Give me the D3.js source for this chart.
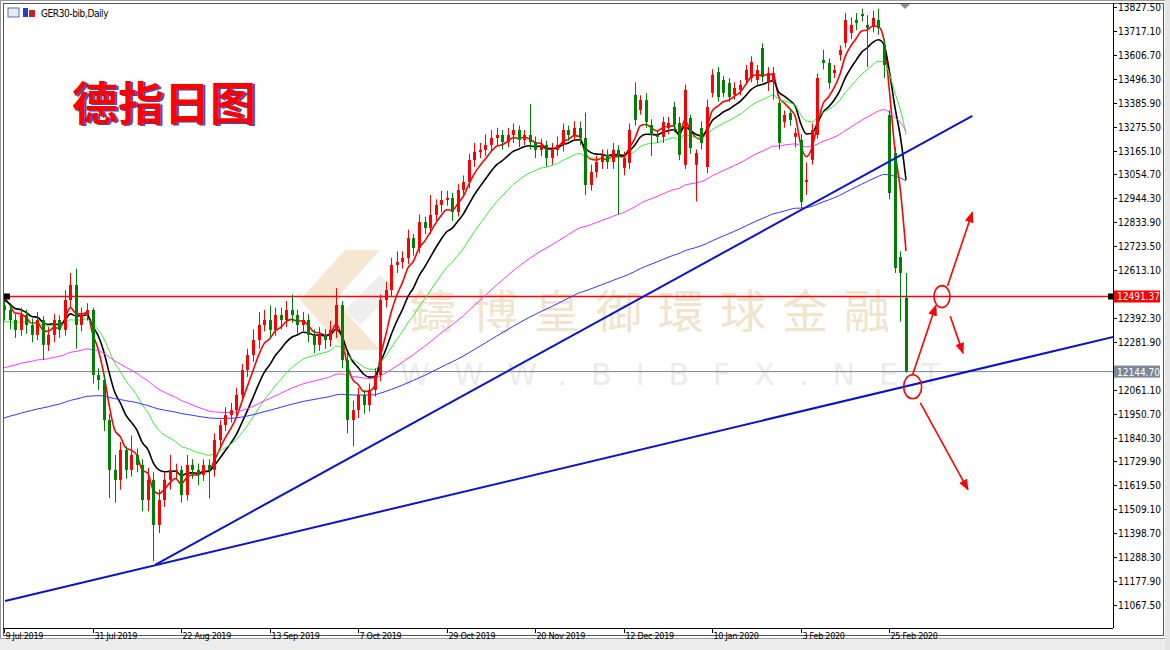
<!DOCTYPE html>
<html><head><meta charset="utf-8">
<script src="https://cdn.jsdelivr.net/npm/d3@7"></script>
<style>body{margin:0;background:#fff}svg{display:block}</style>
</head><body>
<svg id="c" width="1170" height="650"></svg>
<script>
const closes=[12429,12383,12337,12406,12360,12314,12383,12268,12314,12383,
12337,12475,12545,12360,12406,12429,12129,12106,11921,11691,
11645,11783,11691,11760,11714,11552,11645,11437,11552,11645,
11691,11691,11575,11714,11691,11668,11714,11691,11829,11898,
11944,11967,12037,12152,12221,12291,12360,12383,12337,12406,
12383,12429,12406,12360,12383,12314,12268,12314,12291,12337,
12452,12198,11921,11967,12037,11990,12060,12129,12475,12521,
12637,12651,12669,12761,12715,12835,12808,12868,12914,12937,
12946,12881,12983,13020,13121,13158,13168,13191,13223,13237,
13204,13237,13260,13214,13237,13204,13168,13191,13131,13168,
13191,13260,13237,13269,13223,13006,13066,13112,13145,13112,
13168,13140,
13131,13260,13306,13398,13297,13237,13228,13297,13292,13283,
13145,13445,13177,13154,13200,13366,13514,13412,13431,13412,
13454,13468,13537,13574,13537,13505,13523,13523,13200,13329,
13306,13246,12928,13029,13260,13500,13569,13477,13537,13629,
13768,13745,13754,13786,13731,13777,13731,13560,12969,12623,
12600,12145];
const opens=[12450,12429,12383,12337,12406,12360,12314,12383,12268,12314,
12383,12337,12475,12545,12360,12406,12429,12129,12106,11921,
11691,11645,11783,11691,11760,11714,11552,11645,11437,11552,
11645,11691,11691,11575,11714,11691,11668,11714,11691,11829,
11898,11944,11967,12037,12152,12221,12291,12360,12383,12337,
12406,12383,12429,12406,12360,12383,12314,12268,12314,12291,
12337,12452,12198,11921,11967,12037,11990,12060,12129,12475,
12521,12637,12651,12669,12761,12715,12835,12808,12868,12914,
12937,12946,12881,12983,13020,13121,13158,13168,13191,13223,
13237,13204,13237,13260,13214,13237,13204,13168,13191,13131,
13168,13191,13260,13237,13269,13223,13006,13066,13112,13145,
13112,13168,
13085,13108,13422,13352,13398,13283,13237,13228,13269,13366,
13292,13099,13315,13099,13269,13089,13431,13528,13491,13477,
13422,13445,13491,13500,13491,13638,13482,13482,13385,13297,
13338,13228,13214,13020,13122,13237,13583,13569,13523,13606,
13662,13708,13768,13795,13745,13735,13768,13652,13329,13154,
12674,12485];
const highs=[12480,12455,12410,12440,12430,12390,12420,12400,12350,12410,
12405,12520,12600,12620,12440,12460,12440,12160,12130,11950,
11760,11820,11800,11850,11790,11740,11700,11680,11600,11680,
11760,11720,11710,11760,11740,11720,11740,11740,11860,11920,
11980,12000,12070,12180,12250,12340,12420,12430,12450,12440,
12440,12470,12500,12430,12420,12410,12340,12350,12340,12380,
12530,12470,12230,12010,12070,12060,12090,12160,12500,12560,
12670,12700,12700,12800,12780,12870,12860,12960,12940,12980,
12980,12970,13010,13050,13150,13200,13200,13240,13260,13270,
13260,13270,13290,13280,13260,13380,13230,13220,13210,13200,
13230,13290,13280,13300,13300,13340,13100,13140,13170,13170,
13200,13190,
13160,13290,13480,13420,13430,13310,13260,13320,13320,13390,
13320,13470,13330,13170,13300,13400,13540,13550,13510,13500,
13480,13490,13560,13600,13560,13660,13550,13550,13400,13350,
13360,13270,13240,13110,13290,13520,13630,13590,13560,13650,
13800,13780,13800,13820,13790,13810,13820,13680,13350,13180,
12700,12600];
const lows=[12380,12340,12300,12310,12320,12280,12290,12200,12240,12280,
12300,12310,12440,12250,12330,12380,12090,12060,11870,11560,
11540,11600,11650,11660,11680,11500,11500,11270,11400,11520,
11600,11650,11540,11550,11650,11620,11640,11560,11660,11800,
11870,11910,11940,12010,12120,12190,12250,12330,12300,12310,
12340,12350,12370,12320,12330,12280,12230,12240,12250,12260,
12300,12160,11860,11800,11930,11950,11960,12030,12100,12440,
12490,12600,12620,12640,12680,12690,12780,12780,12840,12880,
12910,12840,12860,12950,12990,13090,13130,13140,13160,13190,
13170,13180,13200,13180,13190,13170,13130,13140,13090,13100,
13140,13160,13210,13210,13190,12960,12980,13040,13080,13080,
13080,12870,
13050,13080,13280,13330,13270,13140,13200,13200,13240,13250,
13120,13080,13150,12930,13170,13060,13410,13390,13410,13390,
13400,13420,13470,13480,13470,13480,13440,13400,13170,13270,
13280,13180,12900,12960,13100,13220,13540,13450,13500,13580,
13640,13680,13720,13760,13550,13710,13700,13500,12940,12600,
12375,12140];
const maPeriods=[5,10,20,60,120];
const maStart=[12489,12475,12374,12162,11931];
const maColors=["#ff0000","#000000","#33ee33","#ff33ff","#3333ff"];
const maWidths=[1.6,1.6,1,1,1];
const yTicks=[13827.50,13717.10,13606.70,13496.30,13385.90,13275.50,13165.10,13054.70,12944.30,12833.90,12723.50,12613.10,12502.70,12392.30,12281.90,12171.50,12061.10,11950.70,11840.30,11729.90,11619.50,11509.10,11398.70,11288.30,11177.90,11067.50];
const xTickIdx=[0,16,32,48,64,80,96,112,128,144,160];
const xTickLabels=["9 Jul 2019","31 Jul 2019","22 Aug 2019","13 Sep 2019","7 Oct 2019","29 Oct 2019","20 Nov 2019","12 Dec 2019","10 Jan 2020","3 Feb 2020","25 Feb 2020"];
const hLevel=12491.37, lastPrice=12144.70;
const trend1=[[27.3,11253],[175,13325]];
const trend2=[[0.2,11086],[200.5,12305]];
const circles=[[169.5,12491,8,11],[164.2,12075,9,12]];
const arrows=[[[164.2,12130],[168.4,12450]],[[170.5,12540],[175,12880]],[[171,12400],[173.3,12230]],[[165.6,12000],[174.2,11600]]];

const svg=d3.select("#c");
const L=3,R=1113,T=3,B=628;
const x=d3.scaleLinear().domain([0,163]).range([4,906]);
const y=d3.scaleLinear().domain([11067.5,13827.5]).range([605,7]);

svg.append("rect").attr("x",0.5).attr("y",0.5).attr("width",1169).attr("height",649).attr("fill","#fff").attr("stroke","#9a9a9a");
svg.append("rect").attr("x",0).attr("y",638).attr("width",1170).attr("height",12).attr("fill","#ececec");
svg.append("line").attr("x1",0).attr("x2",1170).attr("y1",638.5).attr("y2",638.5).attr("stroke","#a0a0a0");
svg.append("rect").attr("x",1165).attr("y",0).attr("width",5).attr("height",650).attr("fill","#e4e4e4");
svg.append("rect").attr("x",L+0.5).attr("y",T+0.5).attr("width",1160).attr("height",B-T+7).attr("fill","none").attr("stroke","#555");

const defs=svg.append("defs");
defs.append("clipPath").attr("id","clip").append("rect").attr("x",L+1).attr("y",T+1).attr("width",R-L-1).attr("height",B-T-1);
defs.append("marker").attr("id","ah").attr("viewBox","0 0 10 10").attr("refX",9).attr("refY",5).attr("markerWidth",7).attr("markerHeight",7).attr("orient","auto")
 .append("path").attr("d","M0,1 L10,5 L0,9 z").attr("fill","#ff0000");

const g=svg.append("g").attr("clip-path","url(#clip)");

const wm=g.append("g");
wm.append("path").attr("d","M300,300 L345,250 L380,250 L335,300 Z").attr("fill","#f5e7d2");
wm.append("path").attr("d","M335,300 L380,350 L345,350 L300,300 Z").attr("fill","#f5e7d2");
wm.append("path").attr("d","M345,310 L380,275 L395,290 L360,325 Z").attr("fill","#eeeeee");
wm.append("text").attr("x",410).attr("y",328).attr("font-family","Noto Sans CJK TC").attr("font-size",46).attr("letter-spacing",16).attr("fill","#f2e3cc").text("鑄博皇御環球金融");
wm.append("text").attr("x",400).attr("y",385).attr("font-family","DejaVu Sans").attr("font-size",30).attr("letter-spacing",24).attr("fill","#ececec").text("WWW.BIBFX.NET");

g.append("line").attr("x1",L).attr("x2",R).attr("y1",y(lastPrice)).attr("y2",y(lastPrice)).attr("stroke","#7a8590").attr("stroke-width",1);
g.append("line").attr("x1",L).attr("x2",R).attr("y1",y(hLevel)).attr("y2",y(hLevel)).attr("stroke","#ff0000").attr("stroke-width",1.3);

maPeriods.forEach((p,k)=>{
  const a=2/(p+1); let v=maStart[k]; const pts=[];
  closes.forEach((c,i)=>{ if(i>0) v=v+a*(c-v); pts.push([i,v]); });
  g.append("path").attr("d",d3.line().x(d=>x(d[0])).y(d=>y(d[1])).curve(d3.curveMonotoneX)(pts))
   .attr("fill","none").attr("stroke",maColors[k]).attr("stroke-width",maWidths[k]);
});

const bw=3;
closes.forEach((c,i)=>{
  const o=opens[i], up=c>=o, col=up?"#ff0000":"#008000", cx=Math.round(x(i))+0.5;
  g.append("line").attr("x1",cx).attr("x2",cx).attr("y1",y(highs[i])).attr("y2",y(lows[i])).attr("stroke",col);
  const top=y(Math.max(o,c)), bot=y(Math.min(o,c));
  g.append("rect").attr("x",cx-1.5).attr("y",top).attr("width",bw).attr("height",Math.max(1,bot-top)).attr("fill",col);
});

[trend1,trend2].forEach(t=>{
  g.append("line").attr("x1",x(t[0][0])).attr("y1",y(t[0][1])).attr("x2",x(t[1][0])).attr("y2",y(t[1][1])).attr("stroke","#0a14c8").attr("stroke-width",2);
});

circles.forEach(c=>g.append("ellipse").attr("cx",x(c[0])).attr("cy",y(c[1])).attr("rx",c[2]).attr("ry",c[3]).attr("fill","none").attr("stroke","#ff0000").attr("stroke-width",1.6));
arrows.forEach(a=>g.append("line").attr("x1",x(a[0][0])).attr("y1",y(a[0][1])).attr("x2",x(a[1][0])).attr("y2",y(a[1][1])).attr("stroke","#ff0000").attr("stroke-width",1.6).attr("marker-end","url(#ah)"));

g.append("rect").attr("x",L+1).attr("y",y(hLevel)-3).attr("width",6).attr("height",6).attr("fill","#000");
svg.append("rect").attr("x",R-5).attr("y",y(hLevel)-3).attr("width",5).attr("height",6).attr("fill","#000");

svg.append("line").attr("x1",R+0.5).attr("x2",R+0.5).attr("y1",T).attr("y2",B).attr("stroke","#000");
const yAx=svg.append("g");
yTicks.forEach(v=>{
  const yy=Math.round(y(v))+0.5;
  yAx.append("line").attr("x1",R).attr("x2",R+4).attr("y1",yy).attr("y2",yy).attr("stroke","#000");
  const hidden=Math.abs(y(v)-y(hLevel))<10 || Math.abs(y(v)-y(lastPrice))<10;
  if(!hidden) yAx.append("text").attr("x",R+5).attr("y",yy+3.5).attr("font-family","DejaVu Sans Condensed, DejaVu Sans").attr("font-size",10).attr("fill","#000").text(v.toFixed(2));
});
function box(v,fill){
  const yy=y(v);
  svg.append("rect").attr("x",R+1).attr("y",yy-6).attr("width",46).attr("height",12).attr("fill",fill);
  svg.append("text").attr("x",R+4).attr("y",yy+4).attr("font-family","DejaVu Sans Condensed, DejaVu Sans").attr("font-size",10).attr("fill","#fff").text(v.toFixed(2));
}
box(hLevel,"#ff0000"); box(lastPrice,"#78889a");

svg.append("line").attr("x1",L).attr("x2",R).attr("y1",B+0.5).attr("y2",B+0.5).attr("stroke","#000");
xTickIdx.forEach((idx,k)=>{
  const xx=Math.round(x(idx))+0.5;
  svg.append("line").attr("x1",xx).attr("x2",xx).attr("y1",B).attr("y2",B+5).attr("stroke","#000");
  svg.append("text").attr("x",xx+1).attr("y",B+11).attr("font-family","DejaVu Sans Condensed, DejaVu Sans").attr("font-size",9).attr("letter-spacing",-0.3).attr("fill","#000").text(xTickLabels[k]);
});

svg.append("rect").attr("x",8).attr("y",8).attr("width",11).attr("height",9).attr("fill","#e8eef8").attr("stroke","#5070b0");
svg.append("rect").attr("x",23).attr("y",8).attr("width",5).attr("height",9).attr("fill","#2040d0");
svg.append("rect").attr("x",29).attr("y",10).attr("width",6).attr("height",7).attr("fill","#d02020");
svg.append("text").attr("x",41).attr("y",17).attr("font-family","DejaVu Sans Condensed, DejaVu Sans").attr("font-size",10).attr("letter-spacing",-0.4).attr("fill","#000").text("GER30-bib,Daily");
svg.append("path").attr("d","M900,4 L910,4 L905,9 Z").attr("fill","#8090a0");

const tt="德指日图";
svg.append("text").attr("x",74).attr("y",121).attr("font-family","Noto Sans CJK SC").attr("font-weight","bold").attr("font-size",46).attr("fill","#3050c0").text(tt);
svg.append("text").attr("x",72).attr("y",120).attr("font-family","Noto Sans CJK SC").attr("font-weight","bold").attr("font-size",46).attr("fill","#ff0000").text(tt);
</script>
</body></html>
